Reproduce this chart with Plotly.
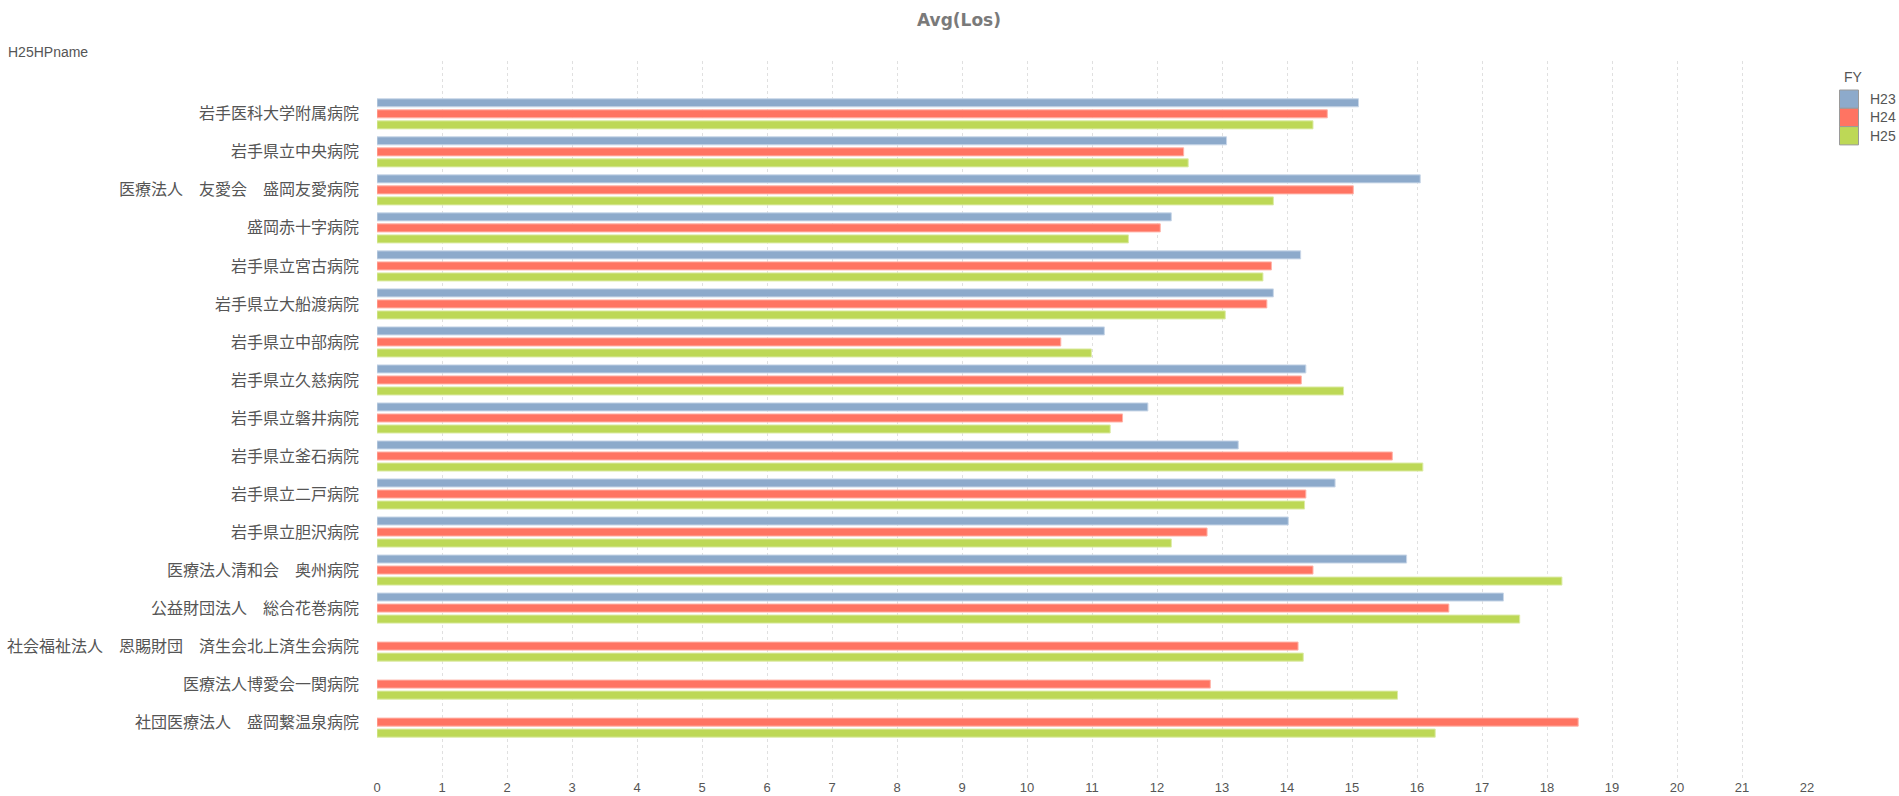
import plotly.graph_objects as go

hospitals = [
    "岩手医科大学附属病院",
    "岩手県立中央病院",
    "医療法人　友愛会　盛岡友愛病院",
    "盛岡赤十字病院",
    "岩手県立宮古病院",
    "岩手県立大船渡病院",
    "岩手県立中部病院",
    "岩手県立久慈病院",
    "岩手県立磐井病院",
    "岩手県立釜石病院",
    "岩手県立二戸病院",
    "岩手県立胆沢病院",
    "医療法人清和会　奥州病院",
    "公益財団法人　総合花巻病院",
    "社会福祉法人　恩賜財団　済生会北上済生会病院",
    "医療法人博愛会一関病院",
    "社団医療法人　盛岡繋温泉病院",
]

h23 = [15.10, 13.07, 16.05, 12.22, 14.21, 13.79, 11.19, 14.29, 11.86, 13.25,
       14.74, 14.02, 15.84, 17.33, None, None, None]
h24 = [14.62, 12.41, 15.02, 12.05, 13.76, 13.69, 10.52, 14.22, 11.47, 15.62,
       14.29, 12.77, 14.40, 16.49, 14.17, 12.82, 18.48]
h25 = [14.40, 12.48, 13.79, 11.56, 13.63, 13.05, 10.99, 14.87, 11.28, 16.09,
       14.27, 12.22, 18.23, 17.58, 14.25, 15.70, 16.28]

series_names = ["H23", "H24", "H25"]
series_values = [h23, h24, h25]
series_colors = ["#8DAACB", "#FF7462", "#BDD856"]
series_edges = ["#C9D7E8", "#FFB3A8", "#DCEBA6"]
legend_title = "FY"

x_ticks = list(range(0, 23))

W, H = 1899, 796
left, right_px, top, bottom_px = 377, 1807, 61, 778
pw, ph = right_px - left, bottom_px - top


def px_x(x):
    return (x - left) / pw


def px_y(y):
    return (bottom_px - y) / ph


fig = go.Figure()
for name, vals, col, edge in zip(series_names, series_values, series_colors, series_edges):
    fig.add_trace(go.Bar(
        y=hospitals, x=vals, name=name, orientation="h", showlegend=False,
        marker=dict(color=col, line=dict(color=edge, width=1)),
    ))

shapes = []
annotations = [
    dict(text="H25HPname", xref="paper", yref="paper", x=px_x(6), y=px_y(52),
         xanchor="left", yanchor="middle", showarrow=False,
         font=dict(family="Liberation Sans", size=14, color="#555555")),
    dict(text=legend_title, xref="paper", yref="paper", x=px_x(1842), y=px_y(77),
         xanchor="left", yanchor="middle", showarrow=False,
         font=dict(family="Liberation Sans", size=14, color="#555555")),
]
sw_top = 90
sw_h = 18.3
for i, (name, col) in enumerate(zip(series_names, series_colors)):
    y0 = sw_top + i * sw_h
    shapes.append(dict(type="rect", xref="paper", yref="paper",
                       x0=px_x(1839.5), x1=px_x(1858.5), y0=px_y(y0 + sw_h), y1=px_y(y0),
                       fillcolor=col, line=dict(color="#9a9a9a", width=1)))
    annotations.append(dict(text=name, xref="paper", yref="paper",
                            x=px_x(1868), y=px_y(y0 + sw_h / 2),
                            xanchor="left", yanchor="middle", showarrow=False,
                            font=dict(family="Liberation Sans", size=14, color="#555555")))

fig.update_layout(
    width=W, height=H,
    barmode="group", bargap=0.13, bargroupgap=0.27,
    plot_bgcolor="white", paper_bgcolor="white",
    margin=dict(l=left, r=W - right_px, t=top, b=H - bottom_px, autoexpand=False),
    title=dict(text="<b>Avg(Los)</b>", x=959 / W, xref="container", xanchor="center",
               y=1 - 20 / H, yref="container", yanchor="middle",
               font=dict(family="DejaVu Sans", size=17, color="#7a7a7a")),
    font=dict(family="Noto Sans CJK JP, Liberation Sans", color="#555555"),
    showlegend=False,
    shapes=shapes,
    annotations=annotations,
)

fig.update_xaxes(
    range=[0, 22], tickvals=x_ticks, ticktext=[str(v) for v in x_ticks],
    showgrid=True, gridcolor="#e0e0e0", griddash="3px,3px", gridwidth=1,
    zeroline=False, showline=False, ticks="", automargin=False,
    tickfont=dict(family="Liberation Sans Narrow, Liberation Sans", size=13, color="#555555"),
)
fig.update_yaxes(
    type="category", categoryorder="array", categoryarray=hospitals,
    range=[17.47, -1.39], showgrid=False, zeroline=False, showline=False,
    ticks="", ticklabelstandoff=17, automargin=False,
    tickfont=dict(family="Noto Sans CJK JP", size=16, color="#555555"),
)

fig.write_html("out.html", config={"displayModeBar": False},
               post_script="document.body.style.margin='0px';")
